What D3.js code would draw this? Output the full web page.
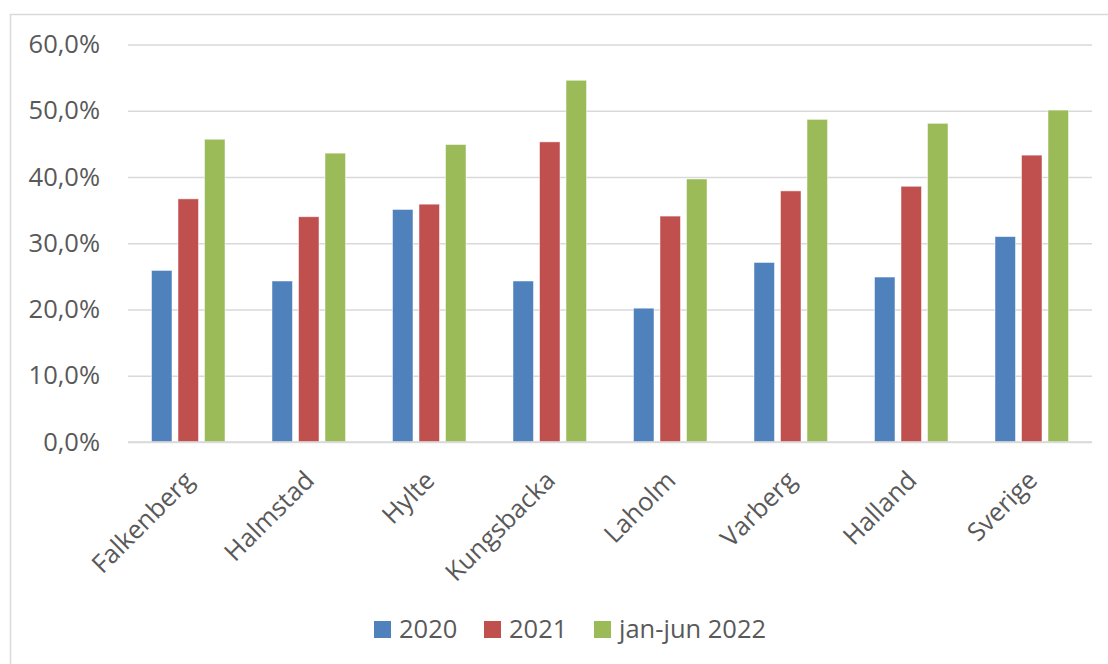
<!DOCTYPE html>
<html><head><meta charset="utf-8">
<script src="https://cdn.jsdelivr.net/npm/d3@7"></script>
<style>html,body{margin:0;padding:0;background:#fff;}svg{display:block;}</style>
</head><body>
<svg id="chart" width="1108" height="664"></svg>
<script>
const categories = ["Falkenberg","Halmstad","Hylte","Kungsbacka","Laholm","Varberg","Halland","Sverige"];
const seriesNames = ["2020","2021","jan-jun 2022"];
const values2020 = [25.9,24.3,35.1,24.3,20.2,27.1,24.9,31.0];
const values2021 = [36.7,34.0,35.9,45.3,34.1,37.9,38.6,43.3];
const values2022 = [45.7,43.6,44.9,54.6,39.7,48.7,48.1,50.1];
const yTicks = [0,10,20,30,40,50,60];
const colors = ["#4f81bd","#c0504d","#9bbb59"];

(function(){
const series = [values2020, values2021, values2022];
const svg = d3.select("#chart");
const font = "'Open Sans', sans-serif";
const textColor = "#595959";
const fs = "25.5px";

svg.append("path").attr("d","M10.5,664 V14.5 H1108").attr("fill","none").attr("stroke","#d9d9d9").attr("stroke-width",1.5);

const pl = 128, pr = 1092, pt = 44.5, pb = 442;
const x = d3.scaleBand().domain(categories).range([pl,pr]).padding(0);
const y = d3.scaleLinear().domain([0,60]).range([pb,pt]);

const yAxis = d3.axisLeft(y).tickValues(yTicks).tickSize(-(pr-pl)).tickFormat(d => d3.format(".1f")(d).replace(".",",")+"%");
const gy = svg.append("g").attr("transform",`translate(${pl},0)`).call(yAxis);
gy.select(".domain").remove();
gy.selectAll(".tick line").attr("stroke","#d9d9d9").attr("stroke-width",1.5);
gy.selectAll(".tick text").attr("x",-28).attr("fill",textColor).style("font-family",font).style("font-size",fs);

const bw = x.bandwidth()*0.17, step = x.bandwidth()*0.22;
series.forEach((vals,si)=>{
  svg.append("g").selectAll("rect").data(vals).join("rect")
    .attr("x",(d,i)=>x(categories[i])+x.bandwidth()/2+(si-1)*step-bw/2)
    .attr("y",d=>y(d)).attr("width",bw).attr("height",d=>pb-y(d))
    .attr("fill",colors[si]).attr("stroke","#fff").attr("stroke-opacity",0.6).attr("stroke-width",0.8);
});

const gx = svg.append("g").attr("transform",`translate(0,${pb})`).call(d3.axisBottom(x).tickSize(0).tickFormat(d=>d));
gx.select(".domain").remove();
gx.selectAll(".tick text").attr("fill",textColor).style("font-family",font).style("font-size",fs)
  .attr("text-anchor","end").attr("y",0).attr("dy",0)
  .attr("transform","translate(7,40) rotate(-45)");
svg.append("line").attr("x1",pl).attr("x2",pr).attr("y1",pb).attr("y2",pb).attr("stroke","#d9d9d9").attr("stroke-width",1.5);

const legendX = [374, 484, 594];
const lg = svg.append("g");
seriesNames.forEach((n,i)=>{
  lg.append("rect").attr("x",legendX[i]).attr("y",621).attr("width",17).attr("height",17).attr("fill",colors[i]);
  lg.append("text").attr("x",legendX[i]+25).attr("y",638).text(n).attr("fill",textColor).style("font-family",font).style("font-size",fs);
});
})();
</script>
</body></html>
